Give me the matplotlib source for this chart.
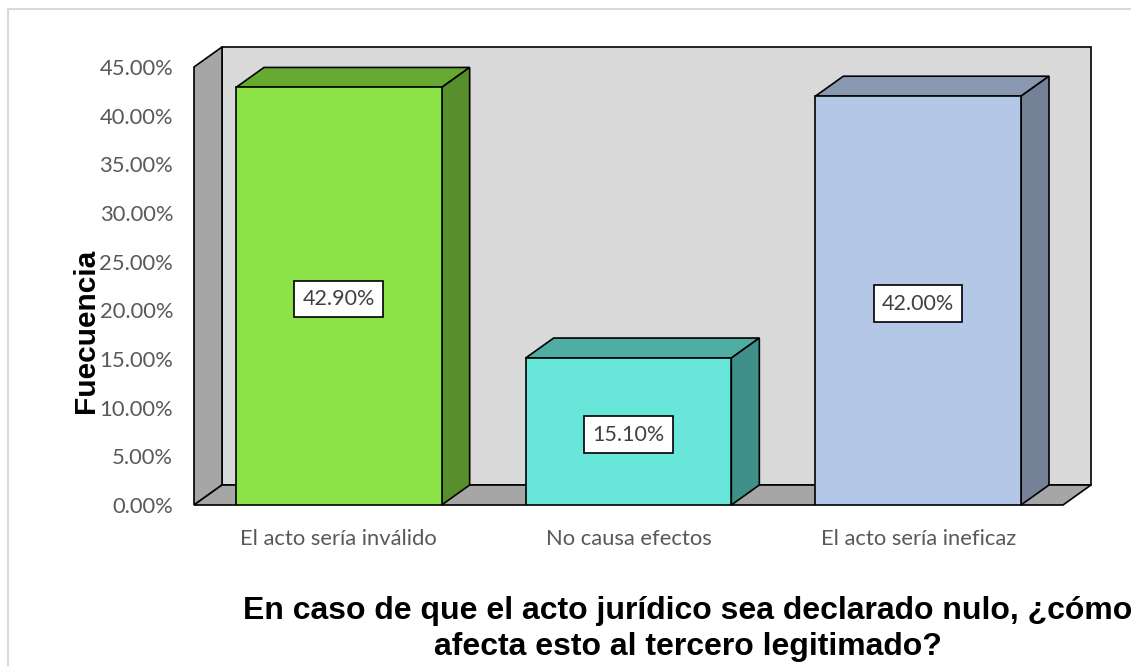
import matplotlib.pyplot as plt
from matplotlib.patches import Polygon, Rectangle
from matplotlib.ticker import FuncFormatter
from matplotlib.transforms import offset_copy

categories = ['El acto sería inválido', 'No causa efectos', 'El acto sería ineficaz']
values = [0.429, 0.151, 0.42]
labels = ['42.90%', '15.10%', '42.00%']

front_col = ['#8be348', '#68e6da', '#b4c7e7']
top_col = ['#66aa33', '#4fada3', '#8798b0']
side_col = ['#588f2d', '#3f9088', '#748196']

W, H = 1131, 666
fig = plt.figure(figsize=(W / 100, H / 100), dpi=100)

# front plane of the "3d" box, in pixels
left, right, bottom, top = 194, 1063, 505, 67
ax = fig.add_axes([left / W, 1 - bottom / H, (right - left) / W, (bottom - top) / H])
ax.set_xlim(-0.5, 2.5)
ax.set_ylim(0, 0.45)
ax.patch.set_visible(False)
for s in ax.spines.values():
    s.set_visible(False)

# depth offset in data units
dx = 28 / ((right - left) / 3)
dy = 20 / ((bottom - top) / 0.45)
lw = 1.2
x0, x1 = ax.get_xlim()
y1 = ax.get_ylim()[1]

def face(pts, color, z):
    ax.add_patch(Polygon(pts, closed=True, facecolor=color, edgecolor='black',
                         linewidth=lw, clip_on=False, zorder=z))

# walls and floor
face([(x0 + dx, dy), (x1 + dx, dy), (x1 + dx, y1 + dy), (x0 + dx, y1 + dy)], '#d9d9d9', 1)
face([(x0, 0), (x0 + dx, dy), (x0 + dx, y1 + dy), (x0, y1)], '#a6a6a6', 2)
face([(x0, 0), (x1, 0), (x1 + dx, dy), (x0 + dx, dy)], '#a6a6a6', 2)

bw = 0.71
lab_tr = offset_copy(ax.transData, fig=fig, x=0, y=-3, units='dots')
bars = ax.bar(range(len(categories)), values, width=bw, color=front_col,
              edgecolor='black', linewidth=lw, zorder=5)
for i, b in enumerate(bars):
    bx0 = b.get_x()
    bx1 = bx0 + b.get_width()
    h = b.get_height()
    face([(bx0, h), (bx1, h), (bx1 + dx, h + dy), (bx0 + dx, h + dy)], top_col[i], 4)
    face([(bx1, 0), (bx1 + dx, dy), (bx1 + dx, h + dy), (bx1, h)], side_col[i], 4)
    ax.text(i, h / 2, labels[i], ha='center', va='center', fontsize=15.5,
            family='Lato', color='#404040', zorder=6, transform=lab_tr,
            bbox=dict(boxstyle='square,pad=0.38', facecolor='white',
                      edgecolor='black', linewidth=lw))

ax.set_yticks([i * 0.05 for i in range(10)])
ax.yaxis.set_major_formatter(FuncFormatter(lambda v, p: '{:.2f}%'.format(v * 100)))
ax.set_xticks(range(len(categories)))
ax.set_xticklabels(categories)
ax.tick_params(axis='y', length=0, pad=15, labelsize=15.8, labelcolor='#595959')
ax.tick_params(axis='x', length=0, pad=17, labelsize=15.8, labelcolor='#595959')
for t in ax.get_xticklabels() + ax.get_yticklabels():
    t.set_family('Lato')

fig.text(86 / W, 1 - 331 / H, 'Fuecuencia', rotation=90, ha='center', va='center',
         fontsize=21.5, fontweight='bold', family='Liberation Sans')
fig.text(688 / W, 1 - 629 / H,
         'En caso de que el acto jurídico sea declarado nulo, ¿cómo\nafecta esto al tercero legitimado?',
         ha='center', va='center', fontsize=23, fontweight='bold',
         family='Liberation Sans', linespacing=1.24)

# outer chart border
fig.patches.append(Rectangle((8 / W, -0.1), 1.2, 1 - 9 / H + 0.1, transform=fig.transFigure,
                             facecolor='none', edgecolor='#d9d9d9', linewidth=1.5))

fig.savefig('out.png', dpi=100)
